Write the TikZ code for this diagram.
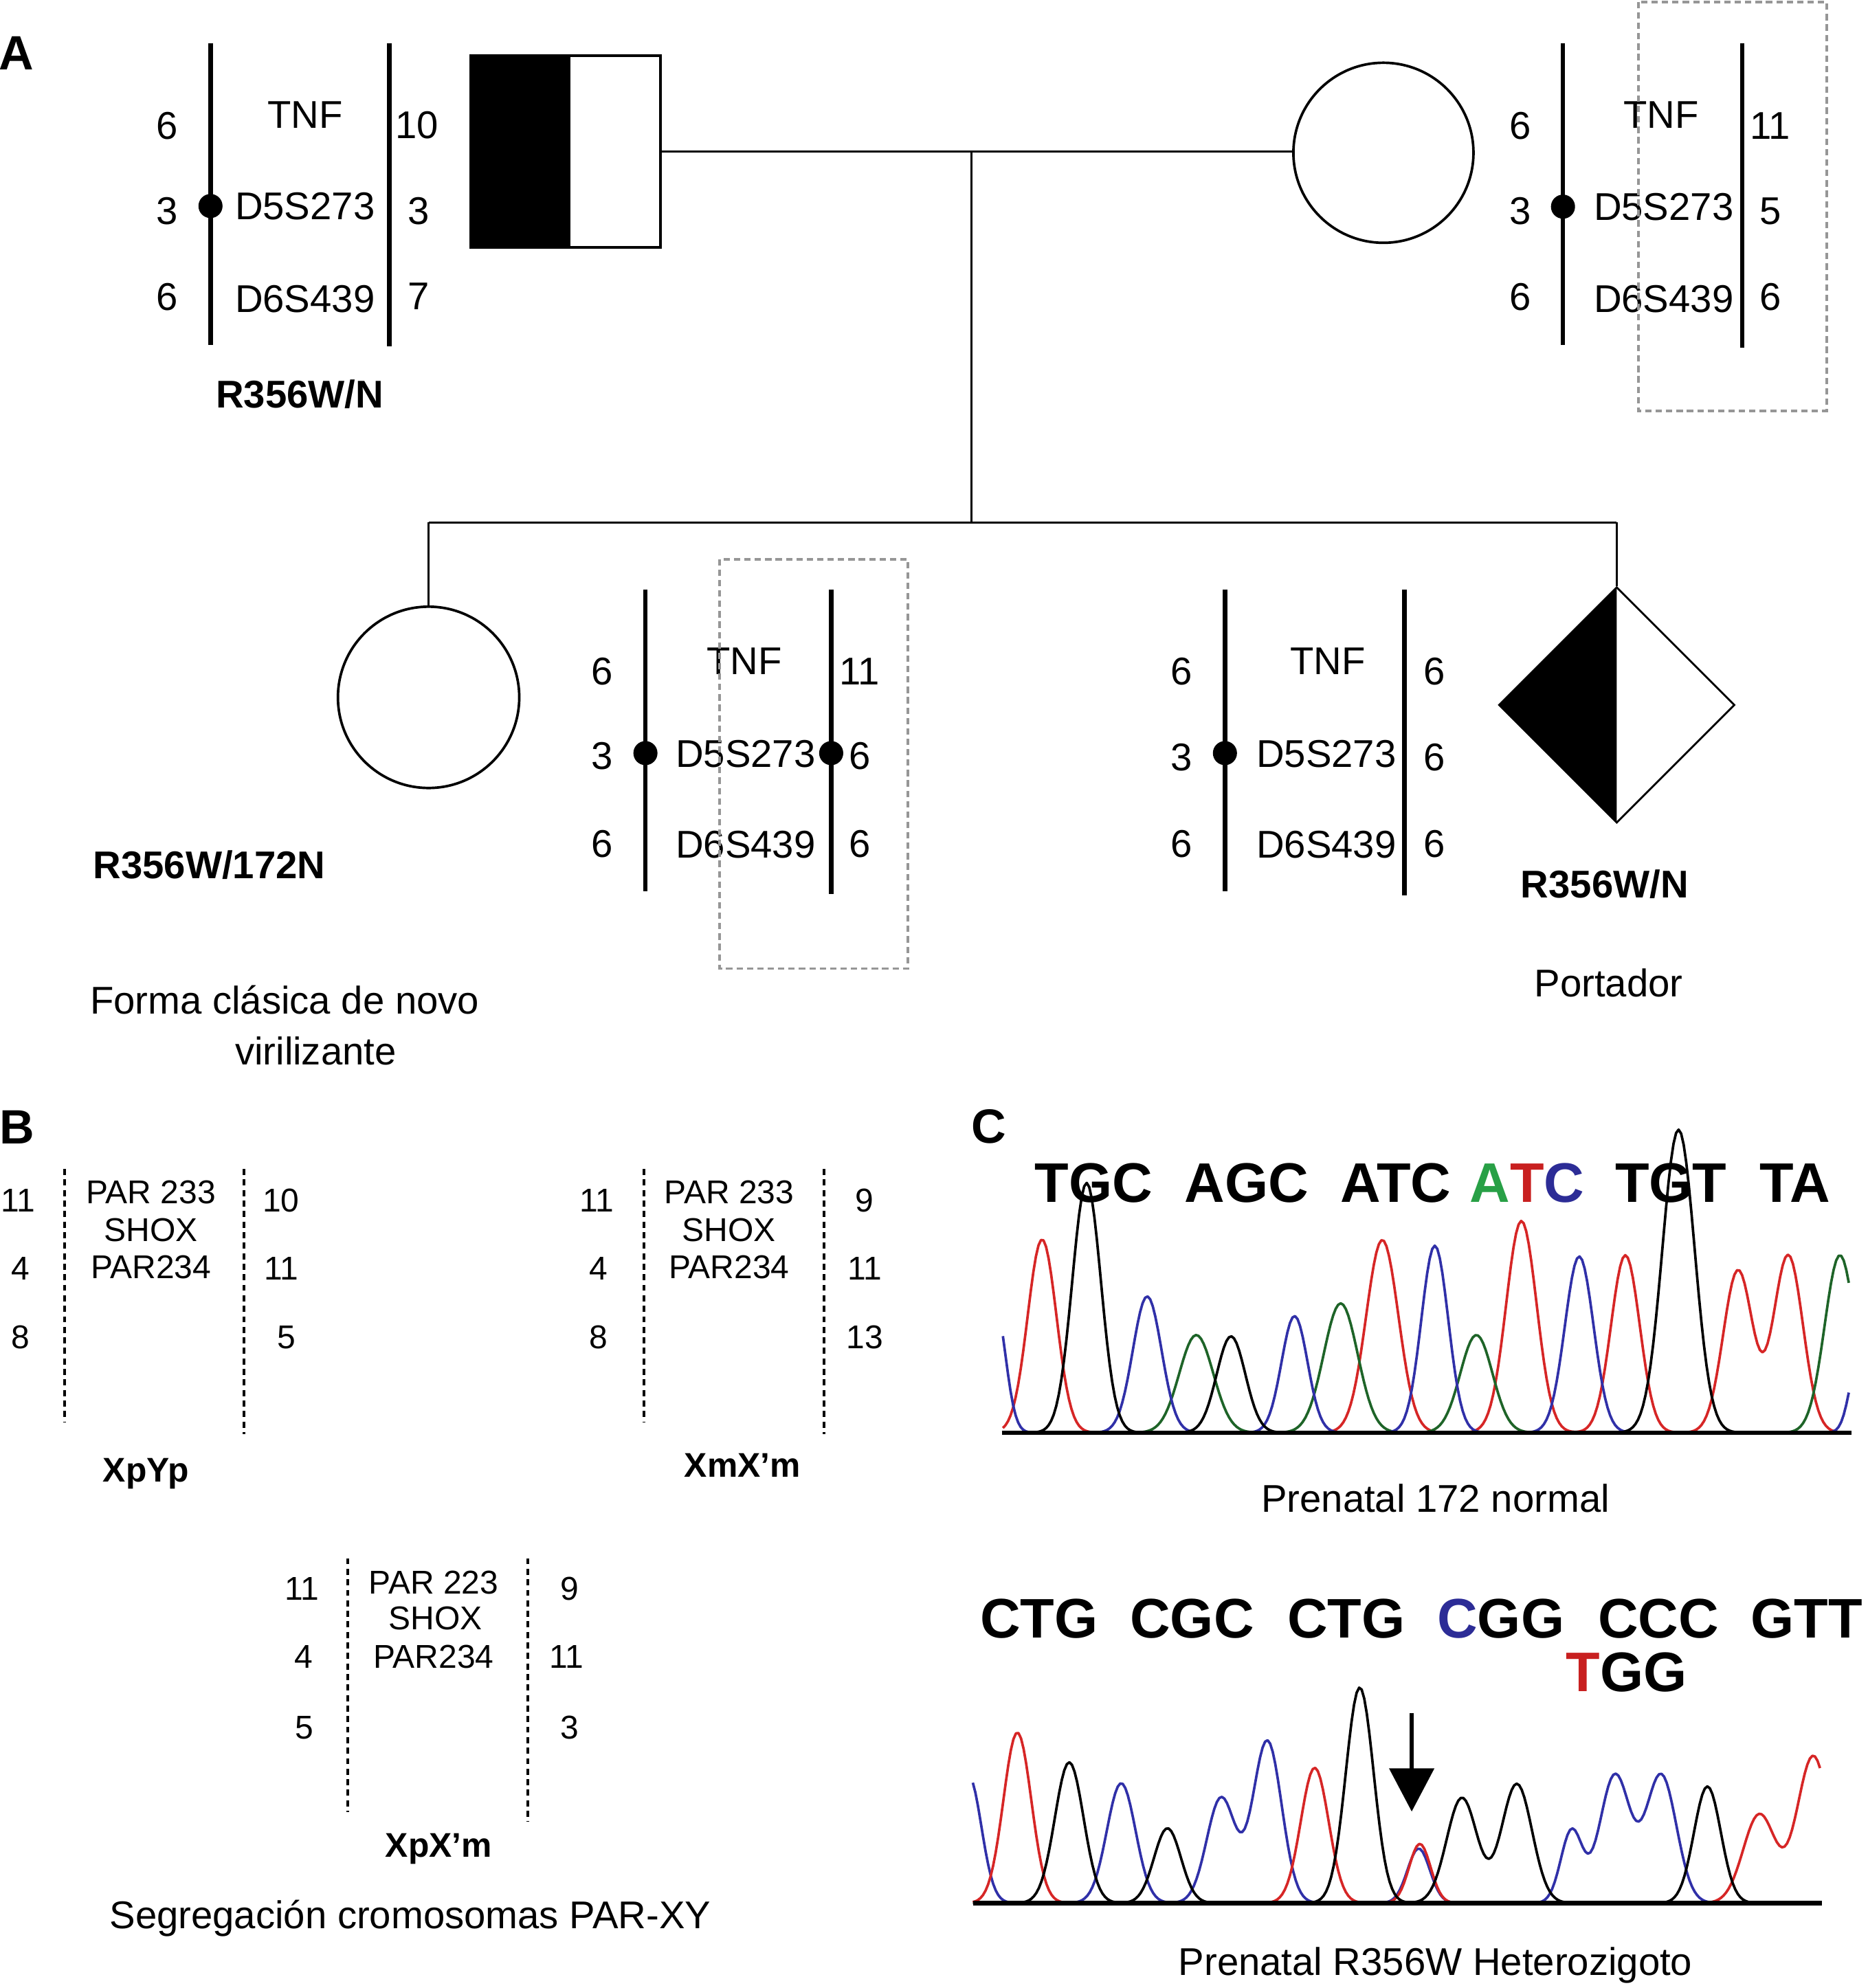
\documentclass[tikz,border=0pt]{standalone}
\usepackage{fontspec}
\setmainfont{Liberation Sans}
\usetikzlibrary{arrows.meta,shapes.geometric}
\definecolor{trRed}{RGB}{214,38,38}
\definecolor{trBlue}{RGB}{48,48,168}
\definecolor{trGreen}{RGB}{30,100,40}
\definecolor{txGreen}{RGB}{40,160,70}
\definecolor{txRed}{RGB}{200,32,32}
\definecolor{txBlue}{RGB}{44,44,150}
\definecolor{boxGray}{RGB}{150,150,150}
\begin{document}
\begin{tikzpicture}[x=1pt,y=-1pt,
  declare function={gp(\gx,\gc,\gh,\gw)=\gh*exp(0-min(((\gx-\gc)/\gw)*((\gx-\gc)/\gw),30));},
  lab/.style={inner sep=0pt,font=\fontsize{30.5}{36}\selectfont,text height=21.8pt,text depth=0pt},
  labB/.style={lab,font=\fontsize{30.5}{36}\selectfont\bfseries},
  sm/.style={inner sep=0pt,font=\fontsize{26}{31}\selectfont,text height=18.6pt,text depth=0pt},
  smB/.style={inner sep=0pt,font=\fontsize{27}{32}\selectfont\bfseries,text height=19.3pt,text depth=0pt},
  panel/.style={inner sep=0pt,font=\fontsize{38}{44}\selectfont\bfseries,text height=27.2pt,text depth=0pt},
  codon/.style={inner sep=0pt,anchor=base west,font=\fontsize{44}{50}\selectfont\bfseries},
  chrom/.style={line width=3.5pt},
  cen/.style={fill=black},
  conn/.style={line width=1.5pt},
  sym/.style={draw,line width=2pt,inner sep=0pt},
  parline/.style={line width=2.2pt,dash pattern=on 4.8pt off 3.5pt},
  hbox/.style={draw=boxGray,line width=2pt,dash pattern=on 5pt off 3.2pt},
  trace/.style={line width=2pt,line join=round},
  axisline/.style={line width=3.5pt},
  arr/.style={line width=3pt,-{Triangle[width=35pt,length=34pt]}},
]
\useasboundingbox (0,0) rectangle (1473,1568);

% ---------------- Panel A ----------------
\node[panel] (pA) at (13,41.5) {A};

% pedigree symbols
\node[sym,minimum width=150pt,minimum height=151pt] (fa) at (446,119.5) {};
\fill (fa.south west) rectangle ([xshift=80pt]fa.north west);
\node[sym,circle,minimum size=142pt] (mo) at (1091,120.5) {};
\draw[conn] (fa.east) -- (fa.east -| mo.west);
\coordinate (mid) at (766,119.5);
\coordinate (sib) at (766,412);
\draw[conn] (mid) -- (sib);
\coordinate (sibL) at (338,412);
\coordinate (sibR) at (1275,412);
\draw[conn] (sibL) -- (sibR);
\node[sym,circle,minimum size=143pt] (da) at (338,550) {};
\draw[conn] (sibL) -- (da.north);
\node[sym,diamond,line width=1.5pt,minimum width=186pt,minimum height=186pt] (so) at (1275,556) {};
\fill (so.north) -- (so.west) -- (so.south) -- cycle;
\draw[conn] (sibR) -- (so.north);

% father haplotypes
\draw[chrom] (166,34) -- (166,272);
\draw[chrom] (307,34) -- (307,273);
\fill[cen] (166,162.5) circle[radius=9.5pt];
\node[lab] (fL1) at (132,99) {6};
\node[lab] (fL2) at (132,165.8) {3};
\node[lab] (fL3) at (132,234) {6};
\node[lab] (fM1) at (240.5,90.4) {TNF};
\node[lab] (fM2) at (240.5,162.4) {D5S273};
\node[lab] (fM3) at (240.5,235.5) {D6S439};
\node[lab] (fR1) at (328.8,98.3) {10};
\node[lab] (fR2) at (330,165.8) {3};
\node[lab] (fR3) at (330,233.3) {7};
\node[labB] (fG) at (236.4,311) {R356W/N};

% mother haplotypes
\draw[chrom] (1232.6,34) -- (1232.6,272);
\draw[chrom] (1374,34) -- (1374,274);
\fill[cen] (1232.6,163) circle[radius=9.5pt];
\node[lab] (mL1) at (1199,99) {6};
\node[lab] (mL2) at (1199,166) {3};
\node[lab] (mL3) at (1199,234) {6};
\node[lab] (mM1) at (1310,90) {TNF};
\node[lab] (mM2) at (1312,163) {D5S273};
\node[lab] (mM3) at (1312,235.5) {D6S439};
\node[lab] (mR1) at (1396,99) {11};
\node[lab] (mR2) at (1396,166) {5};
\node[lab] (mR3) at (1396,234) {6};
\draw[hbox] (1292,1.5) rectangle (1440.5,324);

% daughter haplotypes
\draw[chrom] (509,465) -- (509,703);
\draw[chrom] (655.5,465) -- (655.5,705);
\fill[cen] (509,594) circle[radius=9.5pt];
\fill[cen] (655.5,594) circle[radius=9.5pt];
\node[lab] (dL1) at (475,529) {6};
\node[lab] (dL2) at (475,596) {3};
\node[lab] (dL3) at (475,665) {6};
\node[lab] (dM1) at (587,521) {TNF};
\node[lab] (dM2) at (588,594) {D5S273};
\node[lab] (dM3) at (588,666) {D6S439};
\node[lab] (dR1) at (678,529) {11};
\node[lab] (dR2) at (678,596) {6};
\node[lab] (dR3) at (678,665) {6};
\draw[hbox] (567.6,441) rectangle (716,764);
\node[labB] (dG) at (165,682) {R356W/172N};
\node[lab] (dF1) at (224.5,789) {Forma clásica de novo};
\node[lab] (dF2) at (249,829) {virilizante};

% son haplotypes
\draw[chrom] (966,465) -- (966,703);
\draw[chrom] (1107.5,465) -- (1107.5,706);
\fill[cen] (966,594) circle[radius=9.5pt];
\node[lab] (sL1) at (932,529) {6};
\node[lab] (sL2) at (932,597) {3};
\node[lab] (sL3) at (932,665) {6};
\node[lab] (sM1) at (1047,521) {TNF};
\node[lab] (sM2) at (1046,594) {D5S273};
\node[lab] (sM3) at (1046,666) {D6S439};
\node[lab] (sR1) at (1131,529) {6};
\node[lab] (sR2) at (1131,597) {6};
\node[lab] (sR3) at (1131,665) {6};
\node[labB] (sG) at (1265.5,697) {R356W/N};
\node[lab] (sP) at (1268.6,775) {Portador};

% ---------------- Panel B ----------------
\node[panel] (pB) at (13.6,888.5) {B};

\draw[parline] (50.8,922) -- (50.8,1122);
\draw[parline] (192.4,922) -- (192.4,1131);
\node[sm] (b1L1) at (14.4,946.7) {11};
\node[sm] (b1L2) at (16,1000) {4};
\node[sm] (b1L3) at (16,1054.6) {8};
\node[sm] (b1M1) at (119,940) {PAR 233};
\node[sm] (b1M2) at (119,970) {SHOX};
\node[sm] (b1M3) at (119,999) {PAR234};
\node[sm] (b1R1) at (221.6,946.7) {10};
\node[sm] (b1R2) at (222,1000) {11};
\node[sm] (b1R3) at (226,1054.6) {5};
\node[smB] (b1G) at (115,1159) {XpYp};

\draw[parline] (508,922) -- (508,1122);
\draw[parline] (649.6,922) -- (649.6,1131);
\node[sm] (b2L1) at (470.7,946.7) {11};
\node[sm] (b2L2) at (472,1000) {4};
\node[sm] (b2L3) at (472,1054.6) {8};
\node[sm] (b2M1) at (575,940) {PAR 233};
\node[sm] (b2M2) at (575,970) {SHOX};
\node[sm] (b2M3) at (575,999) {PAR234};
\node[sm] (b2R1) at (682,946.7) {9};
\node[sm] (b2R2) at (682,1000) {11};
\node[sm] (b2R3) at (682,1054.6) {13};
\node[smB] (b2G) at (585.5,1155.5) {XmX’m};

\draw[parline] (274.4,1229) -- (274.4,1429);
\draw[parline] (416,1229) -- (416,1437);
\node[sm] (b3L1) at (238,1252.7) {11};
\node[sm] (b3L2) at (239.6,1306.6) {4};
\node[sm] (b3L3) at (240,1362) {5};
\node[sm] (b3M1) at (342,1248) {PAR 223};
\node[sm] (b3M2) at (343.5,1276) {SHOX};
\node[sm] (b3M3) at (342,1306.6) {PAR234};
\node[sm] (b3R1) at (449,1252.7) {9};
\node[sm] (b3R2) at (447,1306.6) {11};
\node[sm] (b3R3) at (449,1362) {3};
\node[smB] (b3G) at (346,1455) {XpX’m};
\node[lab] (bSeg) at (323.5,1510) {Segregación cromosomas PAR-XY};

% ---------------- Panel C ----------------
\node[panel] (pC) at (780,888) {C};

% sequence 1
\node[codon] (c1a) at (816,948) {TGC};
\node[codon] (c1b) at (934,948) {AGC};
\node[codon] (c1c) at (1057,948) {ATC};
\node[codon] (c1d) at (1159,948) {{\color{txGreen}A}{\color{txRed}T}{\color{txBlue}C}};
\node[codon] (c1e) at (1273.5,948) {TGT};
\node[codon] (c1f) at (1387.6,948) {TA};

\draw[trace,trRed] plot[domain=790.9:1458,samples=334] (\x,{1130-gp(\x,821.8,152.4,16)-gp(\x,1090.1,152,18)-gp(\x,1199.8,167,17)-gp(\x,1281.8,140,16)-gp(\x,1370.6,128,16.5)-gp(\x,1410.2,140,16.5)});
\draw[trace,trGreen] plot[domain=790.9:1458,samples=334] (\x,{1130-gp(\x,943.4,77,19)-gp(\x,1057.3,102,19)-gp(\x,1164.3,77,18)-gp(\x,1451,140,17)});
\draw[trace,trBlue] plot[domain=790.9:1458,samples=334] (\x,{1130-gp(\x,785,100,11.3)-gp(\x,904.7,107.5,16)-gp(\x,1020.9,92,14.5)-gp(\x,1131.5,147.5,15)-gp(\x,1245.4,139,16)-gp(\x,1466,60,10)});
\draw[trace,black] plot[domain=790.9:1458,samples=334] (\x,{1130-gp(\x,856.9,197,16)-gp(\x,970.8,76,16)-gp(\x,1323.7,239,18)});
\coordinate (ax1a) at (790,1130);
\coordinate (ax1b) at (1460,1130);
\draw[axisline] (ax1a) -- (ax1b);
\node[lab] (cap1) at (1132,1182) {Prenatal 172 normal};

% sequence 2
\node[codon] (c2a) at (772.7,1292) {CTG};
\node[codon] (c2b) at (891,1292) {CGC};
\node[codon] (c2c) at (1015,1292) {CTG};
\node[codon] (c2d) at (1133.3,1292) {{\color{txBlue}C}GG};
\node[codon] (c2e) at (1260,1292) {CCC};
\node[codon] (c2f) at (1380.6,1292) {GTT};
\node[codon] (c2g) at (1234.9,1334.3) {{\color{txRed}T}GG};

\draw[trace,trBlue] plot[domain=767.2:1436.6,samples=335] (\x,{1501-gp(\x,764,100,14)-gp(\x,884.2,94.5,16)-gp(\x,963,83,16)-gp(\x,999.4,128,16)-gp(\x,1118.8,43,12.5)-gp(\x,1239.4,57,12)-gp(\x,1273.6,101,17)-gp(\x,1310,101,17)});
\draw[trace,trRed] plot[domain=767.2:1435.3,samples=335] (\x,{1501-gp(\x,802.3,134.5,15.5)-gp(\x,1036.8,106.7,15.5)-gp(\x,1119.7,46.7,12)-gp(\x,1387.5,70,18)-gp(\x,1430,116,18)});
\draw[trace,black] plot[domain=767.2:1436.6,samples=335] (\x,{1501-gp(\x,843.2,111,16)-gp(\x,920.7,59,15)-gp(\x,1072.3,170,15.5)-gp(\x,1152.9,83,17)-gp(\x,1196.2,94,17)-gp(\x,1346.5,92,15)});
\coordinate (ax2a) at (767.2,1501);
\coordinate (ax2b) at (1436.6,1501);
\draw[axisline] (ax2a) -- (ax2b);
\coordinate (arS) at (1113.3,1351);
\coordinate (arE) at (1113.3,1428.8);
\draw[arr] (arS) -- (arE);
\node[lab] (cap2) at (1132,1547) {Prenatal R356W Heterozigoto};

\end{tikzpicture}
\end{document}
